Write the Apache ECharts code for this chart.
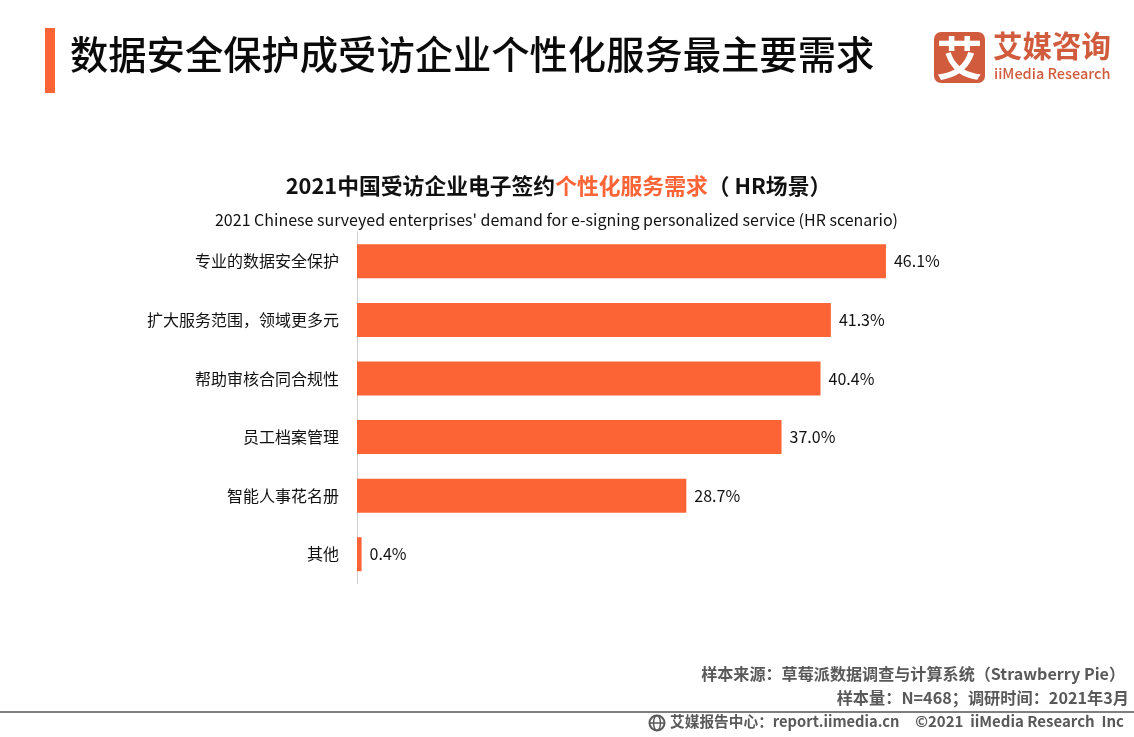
<!DOCTYPE html>
<html>
<head>
<meta charset="utf-8">
<title>数据安全保护成受访企业个性化服务最主要需求</title>
<style>
html,body{margin:0;padding:0;background:#fff}
#chart{width:1134px;height:737px}
</style>
<script src="https://cdn.jsdelivr.net/npm/echarts@6/dist/echarts.min.js"></script>
</head>
<body>
<div id="chart"></div>
<script>
// Survey answers, listed top to bottom
const categories = ['专业的数据安全保护','扩大服务范围，领域更多元','帮助审核合同合规性','员工档案管理','智能人事花名册','其他'];
const shares = [46.1, 41.3, 40.4, 37.0, 28.7, 0.4];

const CJK = '"Noto Sans CJK SC","Noto Sans",sans-serif';
const ORANGE = '#FC6436';
const BRAND = '#D15B3D';
const GREY = '#595959';

const chart = echarts.init(document.getElementById('chart'), null, {renderer: 'canvas'});

chart.setOption({
  animation: false,
  backgroundColor: '#fff',
  textStyle: {fontFamily: CJK},
  title: [{
    left: 553.5, top: 170, textAlign: 'center',
    text: '{k|2021中国受访企业电子签约}{h|个性化服务需求}{k|（ HR场景）}',
    textStyle: {rich: {
      k: {fontFamily: CJK, fontSize: 21.8, fontWeight: 700, color: '#111'},
      h: {fontFamily: CJK, fontSize: 21.8, fontWeight: 700, color: ORANGE}
    }}
  }, {
    left: 551.5, top: 207, textAlign: 'center',
    text: "2021 Chinese surveyed enterprises' demand for e-signing personalized service (HR scenario)",
    textStyle: {fontFamily: CJK, fontSize: 16, fontWeight: 400, color: '#111'}
  }],
  grid: {left: 357, top: 232, width: 573.7, height: 351.5, containLabel: false},
  xAxis: {type: 'value', min: 0, max: 50, show: false},
  yAxis: {
    type: 'category', inverse: true, data: categories,
    axisLine: {show: true, lineStyle: {color: '#D0D0D0', width: 1}},
    axisTick: {show: false},
    axisLabel: {color: '#111', fontSize: 16, fontFamily: CJK, margin: 18}
  },
  series: [{
    type: 'bar', data: shares, barWidth: 34,
    itemStyle: {color: ORANGE},
    label: {
      show: true, position: 'right', distance: 8,
      color: '#111', fontSize: 16, fontFamily: CJK,
      formatter: p => p.value.toFixed(1) + '%'
    }
  }],
  graphic: [
    // heading accent and heading
    {type: 'rect', shape: {x: 45, y: 28, width: 10, height: 65}, style: {fill: ORANGE}},
    {type: 'text', x: 70, y: 35, style: {text: '数据安全保护成受访企业个性化服务最主要需求', fontFamily: CJK, fontSize: 38.3, fontWeight: 500, fill: '#0A0A0A'}},
    // brand mark
    {type: 'rect', shape: {x: 934, y: 32, width: 51, height: 51, r: 7}, style: {fill: BRAND}},
    {type: 'text', x: 959.5, y: 57.5, style: {text: '艾', fontFamily: CJK, fontSize: 46, fontWeight: 700, fill: '#fff', align: 'center', verticalAlign: 'middle'}},
    {type: 'text', x: 993, y: 31, style: {text: '艾媒咨询', fontFamily: CJK, fontSize: 29.5, fontWeight: 700, fill: BRAND}},
    {type: 'text', x: 994, y: 66, style: {text: 'iiMedia Research', fontFamily: CJK, fontSize: 14.5, fontWeight: 500, fill: BRAND}},
    // source notes
    {type: 'text', x: 1125, y: 666, style: {text: '样本来源：草莓派数据调查与计算系统（Strawberry Pie）', fontFamily: CJK, fontSize: 16.1, fontWeight: 700, fill: GREY, align: 'right'}},
    {type: 'text', x: 1129, y: 690, style: {text: '样本量：N=468；调研时间：2021年3月', fontFamily: CJK, fontSize: 16.2, fontWeight: 700, fill: GREY, align: 'right'}},
    // footer rule and strip
    {type: 'rect', shape: {x: 0, y: 711, width: 1134, height: 2}, style: {fill: '#7F7F7F'}},
    {type: 'circle', shape: {cx: 657, cy: 723, r: 7.5}, style: {fill: 'none', stroke: GREY, lineWidth: 2}},
    {type: 'line', shape: {x1: 650, y1: 723, x2: 664, y2: 723}, style: {stroke: GREY, lineWidth: 1.5}},
    {type: 'ellipse', shape: {cx: 657, cy: 723, rx: 3.5, ry: 7.5}, style: {fill: 'none', stroke: GREY, lineWidth: 1.5}},
    {type: 'text', x: 670, y: 714, style: {text: '艾媒报告中心：report.iimedia.cn', fontFamily: CJK, fontSize: 14.7, fontWeight: 700, fill: GREY}},
    {type: 'text', x: 1124, y: 714, style: {text: '©2021  iiMedia Research  Inc', fontFamily: CJK, fontSize: 15, fontWeight: 700, fill: GREY, align: 'right'}}
  ]
});
</script>
</body>
</html>
